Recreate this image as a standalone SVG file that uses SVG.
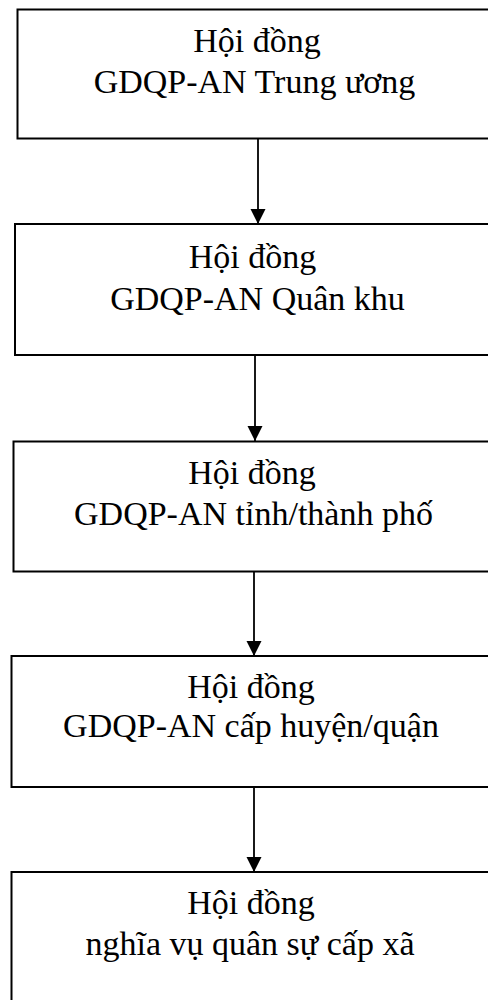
<svg xmlns="http://www.w3.org/2000/svg" width="488" height="1000" viewBox="0 0 488 1000">
  <style>
    .box { fill: #ffffff; stroke: #000000; stroke-width: 2; }
    .lbl { font-family: "Liberation Serif", "Times New Roman", serif; font-size: 34px; fill: #000000; text-anchor: middle; }
    .link { stroke: #000000; stroke-width: 1.8; fill: none; marker-end: url(#head); }
  </style>
  <defs>
    <marker id="head" markerUnits="userSpaceOnUse" markerWidth="16" markerHeight="16" refX="15" refY="8" orient="auto" viewBox="0 0 16 16">
      <path d="M0,0.5 L15,8 L0,15.5 Z" fill="#000000"/>
    </marker>
  </defs>
  <rect width="488" height="1000" fill="#ffffff"/>

  <!-- chain of councils, top to bottom -->
  <g id="links">
    <line class="link" x1="258" y1="137" x2="258" y2="224"/>
    <line class="link" x1="255" y1="355" x2="255" y2="441"/>
    <line class="link" x1="254" y1="569" x2="254" y2="656"/>
    <line class="link" x1="254" y1="785" x2="254" y2="872"/>
  </g>

  <g id="hd-trung-uong">
    <rect class="box" x="17.5" y="9.5" width="490" height="129"/>
    <text class="lbl" x="257" y="51.5">Hội đồng</text>
    <text class="lbl" x="254.5" y="93">GDQP-AN Trung ương</text>
  </g>

  <g id="hd-quan-khu">
    <rect class="box" x="15" y="224" width="490" height="131"/>
    <text class="lbl" x="252.5" y="268">Hội đồng</text>
    <text class="lbl" x="257.5" y="310">GDQP-AN Quân khu</text>
  </g>

  <g id="hd-tinh">
    <rect class="box" x="13.5" y="441.5" width="490" height="130"/>
    <text class="lbl" x="252" y="483.5">Hội đồng</text>
    <text class="lbl" x="253.5" y="525">GDQP-AN tỉnh/thành phố</text>
  </g>

  <g id="hd-huyen">
    <rect class="box" x="11.5" y="656" width="490" height="131"/>
    <text class="lbl" x="251" y="698">Hội đồng</text>
    <text class="lbl" x="251" y="737">GDQP-AN cấp huyện/quận</text>
  </g>

  <g id="hd-xa">
    <rect class="box" x="11.5" y="872" width="490" height="140"/>
    <text class="lbl" x="251" y="913.5">Hội đồng</text>
    <text class="lbl" x="250" y="955">nghĩa vụ quân sự cấp xã</text>
  </g>
</svg>
